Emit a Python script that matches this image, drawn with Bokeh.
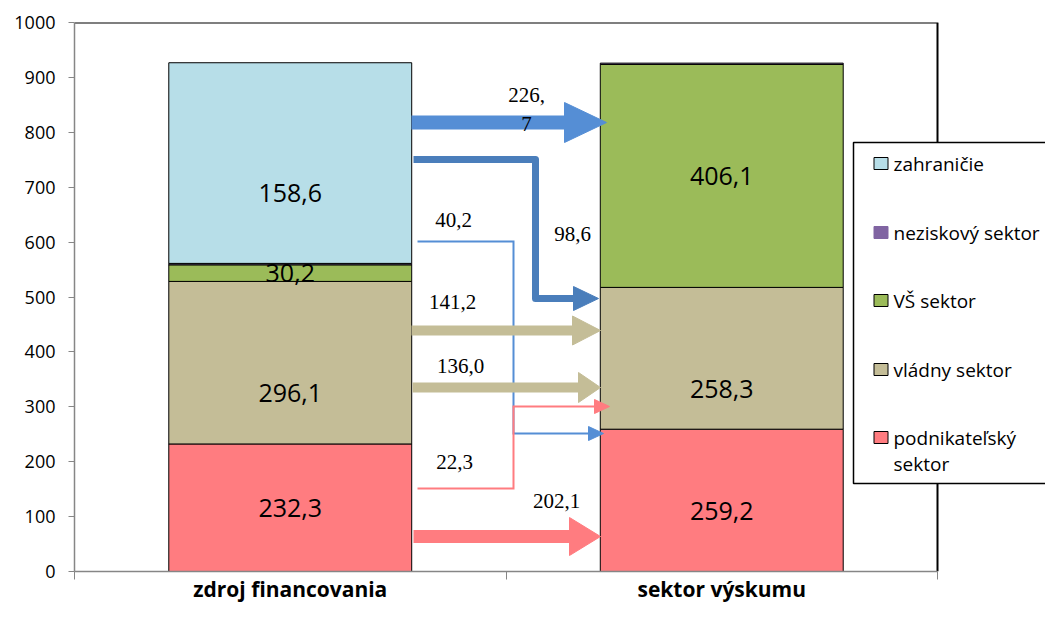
import numpy as np
from bokeh.plotting import figure
from bokeh.models import Range1d, FixedTicker, ColumnDataSource
from bokeh.core.properties import value
from bokeh.embed import file_html
from bokeh.resources import INLINE

# ---------------- data ----------------
categories = ["zdroj financovania", "sektor výskumu"]
series = ["podnikateľský sektor", "vládny sektor", "VŠ sektor", "neziskový sektor", "zahraničie"]
legend_labels = ["podnikateľský\nsektor", "vládny sektor", "VŠ sektor", "neziskový sektor", "zahraničie"]
colors = ["#FF7C80", "#C4BD97", "#9BBB59", "#8064A2", "#B7DEE8"]

podnikatelsky = [232.3, 259.2]
vladny = [296.1, 258.3]
vs_sektor = [30.2, 406.1]
neziskovy = [2.6, 2.4]
zahranicie = [365.5, np.nan]   # no 'zahraničie' segment in the second bar

# data labels as printed in the source chart
seg_label_text = ["232,3", "296,1", "30,2", "158,6", "259,2", "258,3", "406,1"]
seg_label_cat = [0, 0, 0, 0, 1, 1, 1]
seg_label_y = [115, 326, 543, 690, 111, 333, 721]

flow_values = [226.7, 98.6, 40.2, 141.2, 136.0, 22.3, 202.1]
flow_labels = ["226,\n7", "98,6", "40,2", "141,2", "136,0", "22,3", "202,1"]

y_ticks = [0, 100, 200, 300, 400, 500, 600, 700, 800, 900, 1000]

# ---------------- layout helpers (reference pixel -> data) ----------------
PX_X0, PX_PER_X = 74.0, 431.5
PX_Y0, PX_PER_Y = 571.0, 0.549


def X(px):
    return (px - PX_X0) / PX_PER_X


def Y(py):
    return (PX_Y0 - py) / PX_PER_Y


FIG_W, FIG_H = 1045, 605
FRAME_W = FIG_W - 74
BAR_W = 0.563

p = figure(width=FIG_W, height=FIG_H, output_backend="svg", toolbar_location=None,
           x_range=Range1d(0, FRAME_W / PX_PER_X), y_range=Range1d(0, 1000),
           min_border_left=74, min_border_right=0, min_border_top=22, min_border_bottom=34)
p.outline_line_color = None
p.background_fill_color = "white"
p.border_fill_color = "white"
p.xgrid.visible = False
p.ygrid.visible = False

# ---------------- stacked bars ----------------
src = ColumnDataSource(data={
    "x": np.array([0.5, 1.5]),
    series[0]: np.array(podnikatelsky),
    series[1]: np.array(vladny),
    series[2]: np.array(vs_sektor),
    series[3]: np.array(neziskovy),
    series[4]: np.array(zahranicie),
})
p.vbar_stack(series, x="x", width=BAR_W, source=src, fill_color=colors,
             line_color="black", line_width=1)

# plot-area border (top and right)
p.line([0, 2, 2], [1000, 1000, 0], line_color="black", line_width=2)

# segment labels
p.text(x=[c + 0.5 for c in seg_label_cat], y=seg_label_y, text=seg_label_text,
       text_align="center", text_baseline="middle", text_color="black",
       text_font=value("Open Sans"), text_font_size="25px")

# ---------------- flow arrows ----------------
# geometry in reference pixels: path, tip, head length, head width, line width, colour
arrows = [
    dict(path=[(411, 122)], tip=(606, 122), L=42, W=40, lw=14, c="#558ED5", join="miter"),
    dict(path=[(413, 159), (535, 159), (535, 298)], tip=(598, 298), L=25, W=24, lw=7, c="#4A7EBB", join="round"),
    dict(path=[(417, 241), (513, 241), (513, 433)], tip=(603, 433), L=15, W=14, lw=2, c="#558ED5", join="miter"),
    dict(path=[(411, 330)], tip=(600, 330), L=28, W=29, lw=10, c="#C4BD97", join="miter"),
    dict(path=[(412, 387)], tip=(600, 387), L=22, W=30, lw=10, c="#C4BD97", join="miter"),
    dict(path=[(417, 488), (513, 488), (513, 406)], tip=(609, 406), L=15, W=14, lw=2, c="#FF7C80", join="miter"),
    dict(path=[(413, 536)], tip=(600, 536), L=31, W=38, lw=13, c="#FF7C80", join="miter"),
]
for a in arrows:
    tx, ty = a["tip"]
    pts = a["path"] + [(tx - a["L"] + 2, ty)]
    p.line([X(q[0]) for q in pts], [Y(q[1]) for q in pts], line_color=a["c"],
           line_width=a["lw"], line_join=a["join"], line_cap="butt")
    p.patch([X(tx), X(tx - a["L"]), X(tx - a["L"])],
            [Y(ty), Y(ty - a["W"] / 2), Y(ty + a["W"] / 2)],
            fill_color=a["c"], line_color=a["c"], line_width=1)

flow_label_px = [(526, 109), (572, 233), (453, 219), (452, 301), (460, 365), (454, 461), (556, 500)]
p.text(x=[X(q[0]) for q in flow_label_px], y=[Y(q[1]) for q in flow_label_px], text=flow_labels,
       text_align="center", text_baseline="middle", text_color="black",
       text_font=value("Liberation Serif"), text_font_size="21px")

# ---------------- legend (drawn in plot space) ----------------
p.quad(left=[X(853)], right=[X(1075)], top=[Y(142)], bottom=[Y(483)],
       fill_color="white", line_color="black", line_width=1.5)
leg_rows = [163, 232, 300, 369, 437]
order = list(reversed(range(len(series))))
p.rect(x=[X(880.5)] * len(order), y=[Y(r) for r in leg_rows], width=14, height=12,
       width_units="screen", height_units="screen",
       fill_color=[colors[i] for i in order],
       line_color=["#8064A2" if series[i] == "neziskový sektor" else "black" for i in order],
       line_width=1)
tx_, ty_, tt_ = [], [], []
for r, i in zip(leg_rows, order):
    for k, line in enumerate(legend_labels[i].split("\n")):
        tx_.append(X(893))
        ty_.append(Y(r + 26 * k))
        tt_.append(line)
p.text(x=tx_, y=ty_, text=tt_, text_align="left", text_baseline="middle",
       text_color="black", text_font=value("Open Sans"), text_font_size="19px")

# ---------------- axes ----------------
yax = p.yaxis[0]
yax.ticker = FixedTicker(ticks=y_ticks)
yax.axis_line_color = "#868686"
yax.axis_line_width = 1.5
yax.major_tick_line_color = "#868686"
yax.major_tick_out = 6
yax.major_tick_in = 0
yax.minor_tick_out = 0
yax.minor_tick_in = 0
yax.major_label_standoff = 13
yax.major_label_text_font = "Open Sans"
yax.major_label_text_font_size = "18px"
yax.major_label_text_color = "black"

xax = p.xaxis[0]
xax.ticker = FixedTicker(ticks=[0.5, 1.5], minor_ticks=[0, 1, 2])
xax.bounds = (0, 2)
xax.axis_line_color = "#868686"
xax.axis_line_width = 1.5
xax.major_tick_out = 0
xax.major_tick_in = 0
xax.minor_tick_out = 8
xax.minor_tick_in = 0
xax.minor_tick_line_color = "#868686"
xax.major_label_overrides = {0.5: categories[0], 1.5: categories[1]}
xax.major_label_standoff = -5
xax.major_label_text_font = "Open Sans"
xax.major_label_text_font_style = "bold"
xax.major_label_text_font_size = "21px"
xax.major_label_text_color = "black"

open("out.html", "w").write(file_html(p, INLINE))
